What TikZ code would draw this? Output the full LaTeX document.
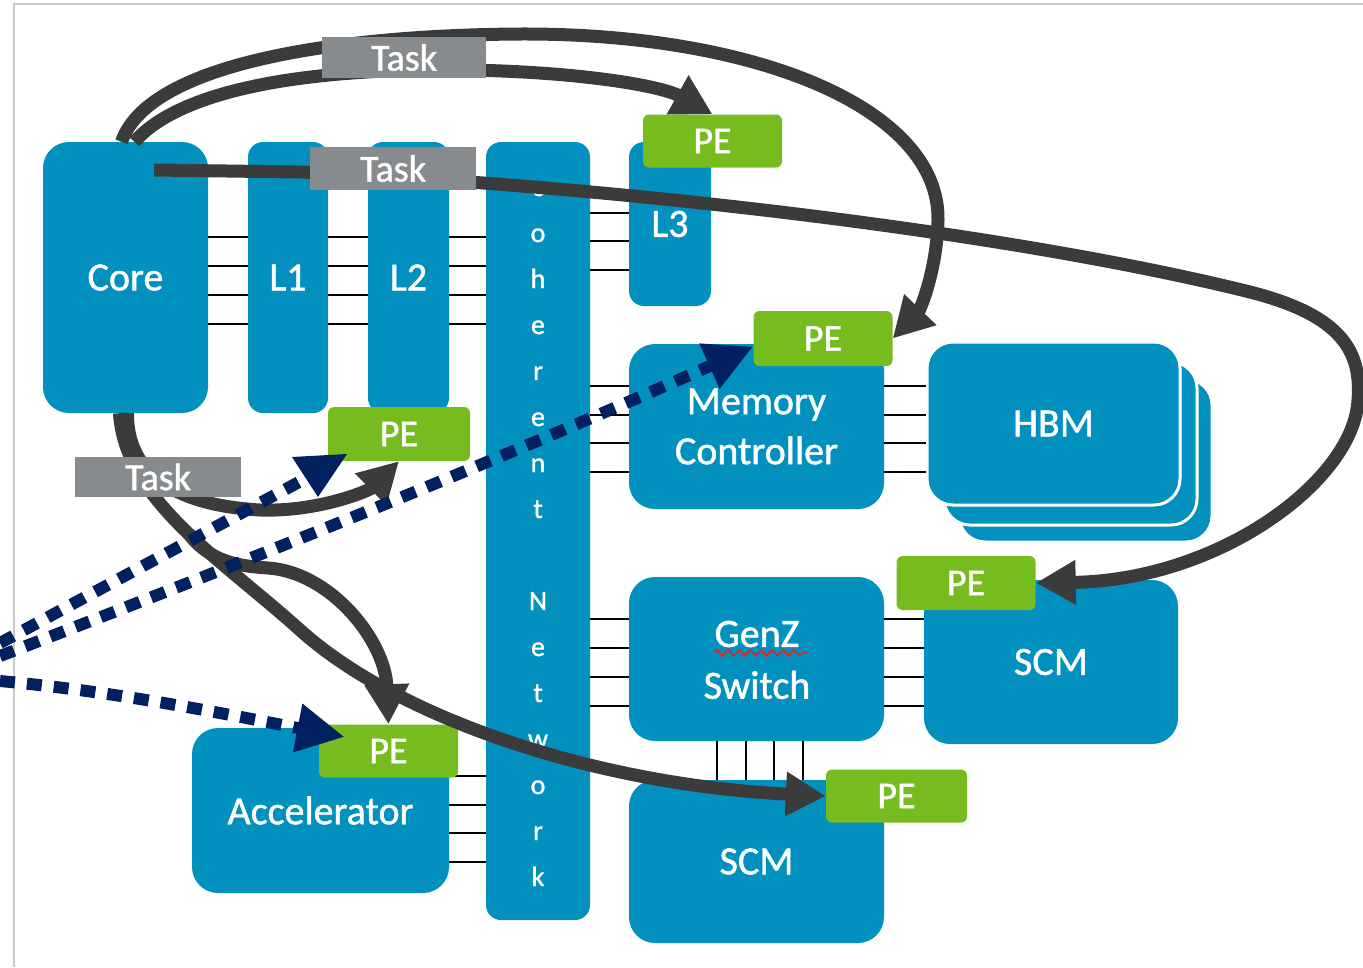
\documentclass[tikz,border=0pt]{standalone}
\usepackage{fontspec}
\setmainfont{Carlito}
\newfontfamily\labelface{Carlito}[FakeBold=1.2]
\usetikzlibrary{arrows.meta,decorations.pathmorphing}

\definecolor{boxblue}{RGB}{2,145,190}
\definecolor{pegreen}{RGB}{119,188,31}
\definecolor{taskgray}{RGB}{136,139,141}
\definecolor{flowdark}{RGB}{59,59,59}
\definecolor{navy}{RGB}{0,32,96}
\definecolor{framegray}{RGB}{200,200,200}
\definecolor{spellred}{RGB}{220,40,40}

\newcommand\lblfont{\labelface\fontsize{40pt}{50pt}\selectfont}
\newcommand\tagfont{\labelface\fontsize{38pt}{44pt}\selectfont}
\newcommand\netfont{\labelface\fontsize{28pt}{32pt}\selectfont}

\begin{document}
\begin{tikzpicture}[x=1pt,y=-1pt,
  unitbox/.style={fill=boxblue, inner sep=0pt, text=white, align=center, font=\lblfont, rounded corners=26pt},
  slimbox/.style={unitbox, rounded corners=15pt},
  pebox/.style={fill=pegreen, rounded corners=6pt, inner sep=0pt, text=white, font=\tagfont, minimum width=139pt, minimum height=53pt},
  taskbox/.style={fill=taskgray, inner sep=0pt, text=white, font=\tagfont, minimum width=165pt, minimum height=41pt},
  busline/.style={line width=2.8pt, black},
  flowarrow/.style={line width=13pt, flowdark, -{Triangle[length=40pt,width=42pt]}},
  probeline/.style={line width=12pt, navy, dash pattern=on 15pt off 12pt},
  probearrow/.style={probeline, -{Triangle[length=48pt,width=46pt]}},
]
\useasboundingbox (0,0) rectangle (1363,967);

% page frame
\draw[framegray, line width=1.3pt] (14,967) -- (14,4) -- (1363,4);

% processing units and memories
\node[unitbox, minimum width=165pt, minimum height=271pt] (core) at (125.5,277.5) {Core};
\node[slimbox, minimum width=80pt, minimum height=271pt] (l1) at (288,277.5) {L1};
\node[slimbox, minimum width=81pt, minimum height=271pt] (l2) at (408.5,277.5) {L2};
\node[slimbox, minimum width=104pt, minimum height=778pt] (net) at (538,531) {};
\node[slimbox, minimum width=82pt, minimum height=164pt] (l3) at (670,224) {L3};
\node[unitbox, minimum width=255pt, minimum height=165pt] (mc) at (756.5,426.5) {Memory\\Controller};
\node[unitbox, draw=white, line width=3pt, minimum width=253pt, minimum height=163pt] (hbmC) at (1085.5,460.5) {};
\node[unitbox, draw=white, line width=3pt, minimum width=253pt, minimum height=163pt] (hbmB) at (1070.5,443.5) {};
\node[unitbox, draw=white, line width=3pt, minimum width=253pt, minimum height=163pt] (hbm) at (1053.5,423.5) {HBM};
\node[unitbox, minimum width=255pt, minimum height=164pt] (genz) at (756.5,659) {};
\node[font=\lblfont, text=white, inner sep=0pt] (gzt) at (757,634) {GenZ};
\node[font=\lblfont, text=white, inner sep=0pt] (swt) at (757,685) {Switch};
\node[unitbox, minimum width=254pt, minimum height=164pt] (scmR) at (1051,662) {SCM};
\node[unitbox, minimum width=255pt, minimum height=163pt] (scmB) at (756.5,861.5) {SCM};
\node[unitbox, minimum width=257pt, minimum height=165pt] (acc) at (320.5,810.5) {Accelerator};

% spell-check squiggle under GenZ
\draw[spellred, line width=1.8pt, decorate, decoration={zigzag, segment length=11pt, amplitude=3pt}]
  ([yshift=-6pt]gzt.base west) -- ([xshift=8pt,yshift=-6pt]gzt.base east);

% buses
\foreach \y in {237,266,295,324} {
  \draw[busline] (core.east |- 0,\y) -- (l1.west |- 0,\y);
  \draw[busline] (l1.east |- 0,\y) -- (l2.west |- 0,\y);
  \draw[busline] (l2.east |- 0,\y) -- (net.west |- 0,\y);
}
\foreach \y in {213,241,270}
  \draw[busline] (net.east |- 0,\y) -- (l3.west |- 0,\y);
\foreach \y in {386,415,443,472} {
  \draw[busline] (net.east |- 0,\y) -- (mc.west |- 0,\y);
  \draw[busline] (mc.east |- 0,\y) -- (hbm.west |- 0,\y);
}
\foreach \y in {619,648,677,706} {
  \draw[busline] (net.east |- 0,\y) -- (genz.west |- 0,\y);
  \draw[busline] (genz.east |- 0,\y) -- (scmR.west |- 0,\y);
}
\foreach \x in {717,746,774,803}
  \draw[busline] (genz.south -| \x,0) -- (scmB.north -| \x,0);
\foreach \y in {776,805,833,862}
  \draw[busline] (acc.east |- 0,\y) -- (net.west |- 0,\y);

% vertical network caption
\foreach \ch [count=\i from 0] in {c,o,h,e,r,e,n,t,{},N,e,t,w,o,r,k}
  \node[font=\netfont, text=white, anchor=base, inner sep=0pt] (net\i) at (538,196+46*\i) {\ch};

% processing elements
\node[pebox] (peL3) at (712.5,141) {PE};
\node[pebox, minimum height=55pt] (peMC) at (823,338.5) {PE};
\node[pebox, minimum width=142pt, minimum height=54pt] (peL2) at (399,434) {PE};
\node[pebox, minimum height=54pt] (peSR) at (966,583) {PE};
\node[pebox, minimum width=141pt] (peSB) at (896.5,796) {PE};
\node[pebox] (peAcc) at (388.5,751) {PE};

% task offload paths
\coordinate (coreOut) at (154,170);
\coordinate (fork) at (188,533);
\draw[flowarrow] ([xshift=-4pt]core.north) .. controls (150,60) and (350,35) .. (520,34)
  .. controls (760,33) and (940,110) .. (938,220) .. controls (937,270) and (920,310) .. (peMC.east);
\draw[flowarrow] ([xshift=9pt]core.north) .. controls (180,90) and (300,72) .. (420,70)
  .. controls (560,68) and (660,85) .. (peL3.north);
\draw[flowarrow] (coreOut) -- (300,172) .. controls (600,185) and (1000,230) .. (1250,292)
  .. controls (1340,315) and (1362,350) .. (1358,400) .. controls (1354,480) and (1220,580) .. (peSR.east);
\draw[flowarrow] ([xshift=2pt]core.south) .. controls (127,470) and (170,505) .. (260,510)
  .. controls (320,512) and (370,490) .. (peL2.south);
\draw[flowarrow] ([xshift=-6pt]core.south) .. controls (125,500) and (220,558) .. (300,630)
  .. controls (400,720) and (600,785) .. (peSB.west);
\draw[flowarrow] (fork) .. controls (210,562) and (238,566) .. (268,568)
  .. controls (330,572) and (385,640) .. (peAcc.north);

% task labels
\node[taskbox, minimum width=164pt] (task1) at (404,57.5) {Task};
\node[taskbox, minimum width=166pt, minimum height=43pt] (task2) at (393,168.5) {Task};
\node[taskbox, minimum width=166pt, minimum height=40pt] (task3) at (158,477) {Task};

% external requests
\coordinate (srcG) at (0,643);
\coordinate (endG) at (312,475);
\coordinate (srcH) at (0,656);
\coordinate (srcI) at (0,681);
\draw[probeline] (srcG) -- (endG);
\fill[navy] (292,457) -- (347,454) -- (318,497) -- cycle;
\draw[probearrow] (srcH) .. controls (250,560) and (500,460) .. ([yshift=-8pt]peMC.west);
\draw[probearrow] (srcI) .. controls (120,692) and (230,715) .. ([xshift=26pt,yshift=14pt]peAcc.west);
\end{tikzpicture}
\end{document}
